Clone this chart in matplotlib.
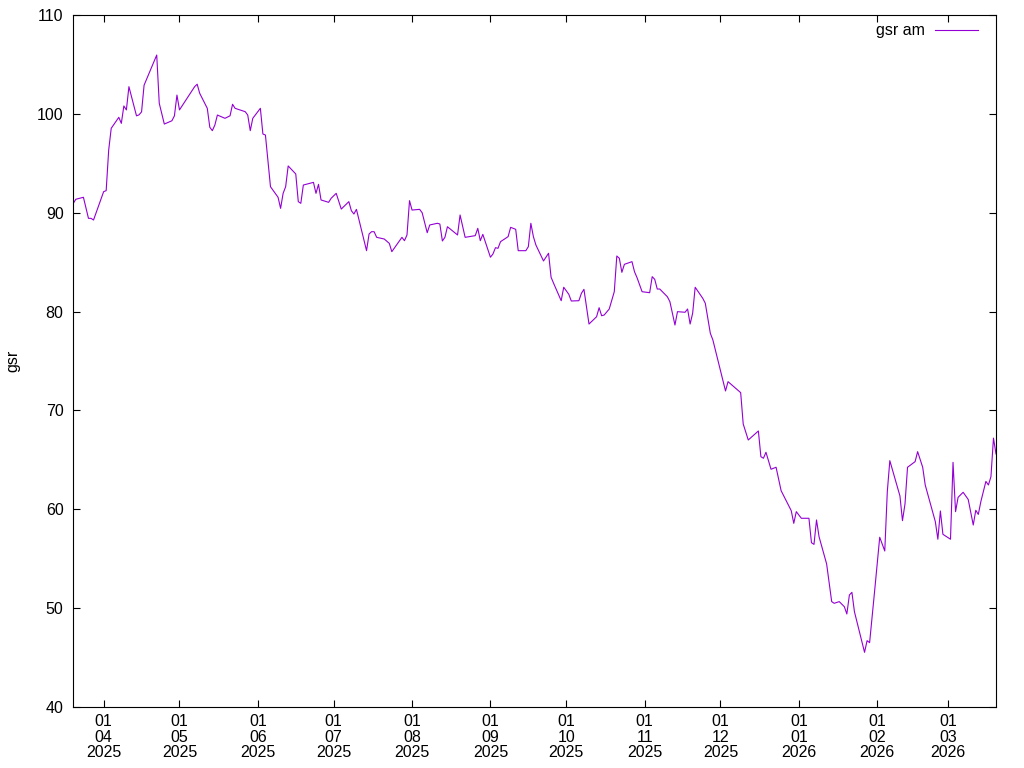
import pandas as pd
import matplotlib
matplotlib.use('Agg')
import matplotlib.pyplot as plt
import matplotlib.dates as mdates

plt.rcParams['font.family'] = ['Liberation Sans', 'DejaVu Sans']

start = pd.Timestamp('2025-03-20')

# days since start
days = [0, 1, 4, 6, 7, 8, 12, 13, 14, 15, 18, 19, 20, 21, 22, 25, 26, 27, 28, 33,
        34, 36, 39, 40, 41, 42, 48, 49, 50, 53, 54, 55, 56, 57, 60, 62, 63, 64, 68, 69,
        70, 71, 74, 75, 76, 78, 81, 82, 83, 84, 85, 88, 89, 90, 91, 95, 96, 97, 98, 101,
        102, 104, 106, 109, 110, 111, 112, 116, 117, 118, 119, 120, 123, 125, 126, 130, 131, 132, 133, 134,
        137, 138, 140, 141, 144, 145, 146, 147, 148, 152, 153, 155, 159, 160, 161, 162, 165, 166, 167, 168,
        169, 172, 173, 175, 176, 179, 180, 181, 182, 183, 186, 188, 189, 190, 193, 194, 196, 197, 200, 201,
        202, 204, 207, 208, 209, 210, 212, 214, 215, 216, 217, 218, 221, 222, 223, 225, 228, 229, 230, 231,
        232, 235, 236, 238, 239, 242, 243, 244, 245, 246, 249, 250, 252, 253, 258, 259, 264, 265, 267, 271,
        272, 273, 274, 276, 278, 280, 284, 285, 286, 288, 291, 292, 293, 294, 295, 298, 300, 301, 303, 305,
        306, 307, 308, 309, 313, 314, 315, 317, 319, 321, 322, 323, 327, 328, 329, 330, 333, 334, 336, 337,
        341, 342, 343, 344, 347, 348, 349, 350, 352, 354, 356, 357, 358, 359, 361, 362, 363, 364, 365]

gsr = [90.95, 91.36, 91.56, 89.43, 89.43, 89.26, 92.13, 92.23, 96.34, 98.54, 99.65, 99.04, 100.8, 100.4, 102.75, 99.8, 99.9, 100.2, 102.9, 105.95,
       101.07, 98.97, 99.3, 99.8, 101.9, 100.4, 102.75, 103.0, 102.08, 100.56, 98.64, 98.3, 98.87, 99.88, 99.55, 99.8, 100.97, 100.56, 100.22, 99.88,
       98.3, 99.55, 100.56, 97.96, 97.86, 92.63, 91.56, 90.44, 91.96, 92.63, 94.73, 93.92, 91.12, 90.95, 92.8, 93.07, 91.96, 92.87, 91.29, 91.05,
       91.46, 91.96, 90.37, 91.12, 90.2, 89.87, 90.34, 86.16, 87.85, 88.08, 88.08, 87.51, 87.34, 86.9, 86.06, 87.51, 87.17, 87.75, 91.22, 90.27,
       90.34, 90.0, 87.98, 88.76, 88.93, 88.86, 87.14, 87.51, 88.58, 87.75, 89.77, 87.51, 87.68, 88.42, 87.17, 87.81, 85.5, 85.82, 86.46, 86.4,
       87.07, 87.58, 88.52, 88.32, 86.16, 86.16, 86.56, 88.93, 87.58, 86.73, 85.12, 85.9, 83.47, 82.86, 81.1, 82.46, 81.75, 81.07, 81.1, 81.85,
       82.25, 78.74, 79.48, 80.39, 79.58, 79.65, 80.26, 82.01, 85.62, 85.39, 83.97, 84.78, 85.05, 84.03, 83.43, 82.01, 81.91, 83.53, 83.26, 82.28,
       82.28, 81.5, 81.0, 78.64, 79.99, 79.93, 80.26, 78.74, 79.83, 82.46, 81.34, 80.84, 77.8, 77.13, 71.97, 72.91, 71.8, 68.63, 67.01, 67.92,
       65.32, 65.16, 65.77, 64.05, 64.25, 61.88, 59.86, 58.58, 59.76, 59.09, 59.09, 56.62, 56.45, 58.92, 57.23, 54.47, 50.66, 50.49, 50.66, 50.15,
       49.41, 51.33, 51.6, 49.64, 45.53, 46.71, 46.51, 51.77, 57.17, 55.78, 61.78, 64.92, 61.35, 58.85, 60.54, 64.25, 64.82, 65.83, 64.25, 62.46,
       58.75, 56.97, 59.83, 57.47, 56.97, 64.75, 59.76, 61.21, 61.72, 61.0, 58.41, 59.9, 59.48, 60.77, 62.82, 62.46, 63.3, 67.2, 65.6]

dates = start + pd.to_timedelta(days, unit='D')

fig = plt.figure(figsize=(10.24, 7.68), dpi=100)
ax = fig.add_axes([73.3 / 1024, 1 - 707 / 768, (996 - 73.3) / 1024, (707 - 15) / 768])

ax.plot(dates, gsr, color='#9400D3', linewidth=0.8, label='gsr am')

ax.set_xlim(dates[0], dates[-1])
ax.set_ylim(40, 110)
ax.set_yticks(range(40, 111, 10))
ax.xaxis.set_major_locator(mdates.MonthLocator())
ax.xaxis.set_major_formatter(mdates.DateFormatter('%d\n%m\n%Y'))

ax.tick_params(direction='in', top=True, right=True, length=5, width=0.8,
               labelsize=11.5, pad=7)
ax.tick_params(axis='x', pad=5)
for lab in ax.get_xticklabels():
    lab.set_linespacing(1.05)
for sp in ax.spines.values():
    sp.set_linewidth(0.8)

ax.set_ylabel('gsr', fontsize=11.5, labelpad=12)

ax.legend(loc='upper right', bbox_to_anchor=(0.9874, 0.997), frameon=False,
          markerfirst=False, handlelength=2.7, fontsize=11.5, borderaxespad=0,
          handletextpad=0.6)

plt.savefig('out.png')
